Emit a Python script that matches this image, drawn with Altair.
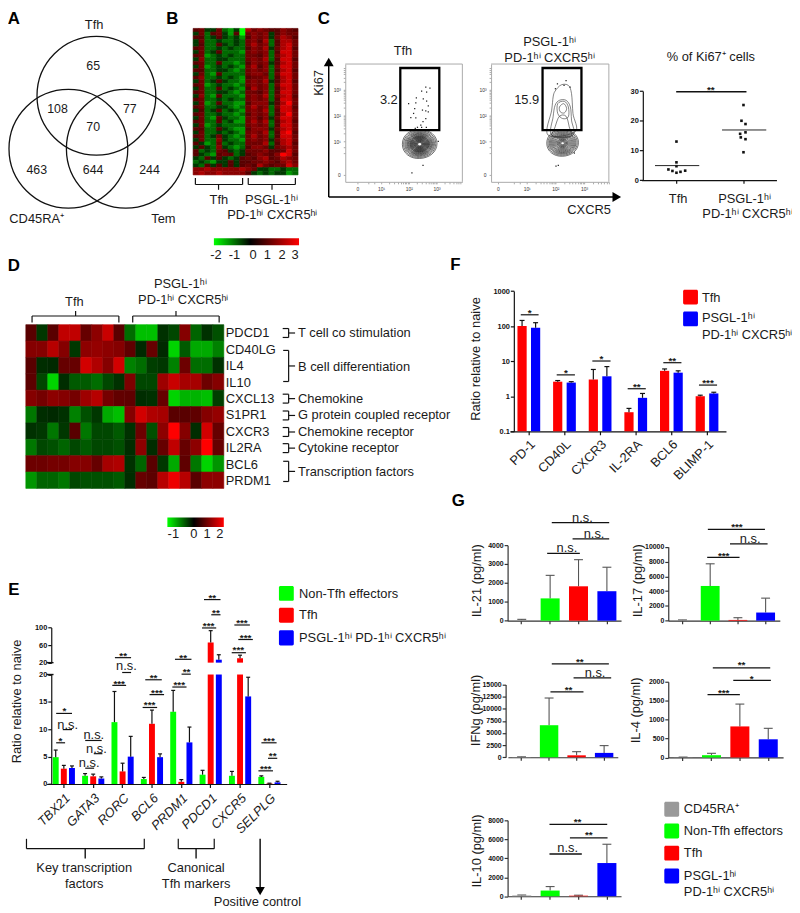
import altair as alt
import pandas as pd

FONT = "Liberation Sans"
W, H = 792, 905
HI = "\u02b0\u2071"
PSGL = "PSGL-1" + HI
PD = "PD-1" + HI + " CXCR5" + HI

# ---------- data ----------
venn_counts = ["65", "108", "77", "70", "463", "644", "244"]

B_rows = """EFDDFCBDA|HFGFEEGFE
DFCEFDBEA|FGFGDEGFF
EECDEDCDB|EGFGDFHGE
DFCCDCCDC|FGEHCEHHF
DECCEDCDC|FHFGCEHIF
EFCCDCDCC|EGFHDFHIE
DFCDECCCB|FGFGCEIIF
EFBCDCDCC|FFEGCFHIF
DGCCDDCCC|FGFHCEIIE
EFCCECCBC|EGFGDEHIF
DFBCDCDCB|FHEGCFIIF
EECCDDCBC|FGFGCEHIE
DFCBECCCC|FGGFCFIIF
EGCCDCDCB|EFFGCEHIF
DFCDEDCCB|FGFHDEHIE
EFBCDCCBC|FGFGCFIIF
DFCCECDCB|EHFGCEHIF
EFCCDDCBC|FFEGCEIIF
DGCBECCCB|FGFHCFHIE
EFCCDCDCC|FGFGCEIIF
DFBCECCBB|EGGGDEHJF
EFCCDDCBC|FHFGCFIIE
DECDECDCB|FGFHCEIIF
EFCCDCCBC|EGFGCEHJF
DFCBEDCCB|FGEGDFIIF
EFCCECDBB|FHFHCEHIE
DFBCDCCCC|FGFGCEIIF
EECCEDCBB|EGGGDFHIF
DFCCDCDCB|FGFHCEIJE
EFCDFDCBC|FHFGCEIIF
DFCCGDCCB|FGFGDFHIF
EDBCFCDCC|FFFHCEHIE
DEDCGDCBC|EGGFDFGHF
ECDCFEDCD|FFFGEEFIF
EDCBEFECD|EFGFEGJIE
DCEDEDCDE|FEGHEFHGF
CDCBDDEDE|EFFGFEGHF
DCEDEDEDE|FEHFEFFIG
GGHGGGGGH|GFDDCCDCC
GHGGHGGGG|EDCDCDDBC""".split("\n")
B_code = dict(A=-2, B=-1.2, C=-.8, D=-.35, E=0, F=.5, G=1.0, H=1.6, I=2.2, J=3)

D_genes = ["PDCD1", "CD40LG", "IL4", "IL10", "CXCL13", "S1PR1", "CXCR3", "IL2RA", "BCL6", "PRDM1"]
D_vals = [
    [0, -.2, 0, 1.3, 1.3, .2, .7, 1.4, 0, -.5, -.9, -.9, -.15, -.3, .6, -.45, -.15, -.35],
    [.6, .6, 1.2, .6, -.2, .7, .8, .7, .6, .1, -.05, .2, -.05, -1.0, -.4, -.8, -.8, -.6],
    [0, -.1, -.05, .2, .2, 1.5, 1.1, .6, 1.5, -.6, -.5, -.25, -.2, -.6, .3, -.5, -.5, -.15],
    [.05, -.3, -1.0, -.1, -.4, -.4, -.5, -.3, -.15, .5, -.3, -.3, .9, 1.4, 1.0, 1.0, .3, .6],
    [.6, .4, .7, .6, .4, .9, 1.2, .4, .15, .1, -.1, -.15, .2, -1.0, -.85, -.85, -.9, -.25],
    [-.55, -.1, -.05, -.15, -.6, -.35, -.2, -.8, -.9, .6, 1.5, 1.1, 1.0, 0, 0, .1, .6, .8],
    [-.15, -.2, -.55, -.2, 0, -.55, -.3, -.3, -.4, -.15, .3, -.35, .7, 2, .6, -.1, 1.5, .2],
    [-.55, -.3, -.35, -.45, -.3, -.4, -.3, -.3, -.35, -.1, .7, -.1, .2, 1.3, .2, .7, 2, .2],
    [.3, .3, .4, .4, .6, .6, .2, 1.0, 1.1, -.15, -.45, 0, -.2, -.8, .1, -.55, -1.0, -.7],
    [-.7, -.45, -.45, -.55, -.3, -.35, -.35, -.35, -.4, -.1, .2, .05, 1.2, 1.8, 1.2, 0, .7, .7],
]

# flow cytometry (values in decades of the biexponential axes)
flow_left_x = [2.61, 2.76, 2.46, 2.64, 2.27, 2.52, 2.64, 2.25, 1.99, 2.70, 2.21, 2.49, 2.61, 2.70, 2.17, 2.07, 2.25, 2.61, 2.51, 2.43, 2.31, 2.46, 2.63, 2.23, 2.51, 2.11, 3.06]
flow_left_y = [3.10, 3.06, 2.95, 2.91, 2.68, 2.65, 2.56, 2.49, 2.46, 2.37, 2.27, 2.21, 2.18, 2.14, 2.08, 1.92, 1.91, 1.88, 1.76, 1.63, 1.54, 1.54, 1.54, 1.50, 0.06, -0.23, 0.99]
flow_right_x = [2.37, 2.07, 2.30, 2.51, 2.0, 2.02, 2.10, 2.66]
flow_right_y = [3.36, 3.23, 3.17, 3.10, 3.04, 0.03, 0.06, 0.54]
contour_left = [35, 32.5, 30, 28, 26, 24.5, 23, 21.5, 20, 19, 18, 17, 16, 15, 14, 13, 12, 11, 10, 9, 8, 7, 6, 5, 4]
contour_right = [32, 29.5, 27, 25, 23, 21, 19, 17, 15, 13, 11, 9.5, 8, 6.5, 5, 3.5]
tall = {
    "c1": [(1.99, 2.95), (2.20, 3.19), (2.45, 3.17), (2.56, 2.85), (2.61, 2.08), (2.69, 1.37), (1.74, 1.24), (1.87, 2.21), (1.92, 2.72)],
    "c2": [(2.14, 2.59), (2.37, 2.59), (2.52, 2.33), (2.56, 1.82), (2.61, 1.24), (1.87, 1.24), (1.92, 1.95), (1.99, 2.40)],
    "c3": [(2.08, 2.46), (2.31, 2.55), (2.45, 2.33), (2.45, 1.95), (2.25, 1.88), (2.08, 2.08)],
    "c4": [(2.14, 2.33), (2.29, 2.46), (2.39, 2.27), (2.31, 2.10), (2.17, 2.14)],
    "c5": [(1.99, 1.56), (2.14, 1.97), (2.37, 1.97), (2.48, 1.56), (2.54, 1.18), (1.91, 1.18)],
}

ki_x = [1, 1, 1, .88, .94, 1, 1.06, 1.13, 2, 1.97, 2.03, 2.03, 1.95, 1.96, 2.03, 2]
ki_y = [13.0, 6.0, 4.7, 3.6, 3.1, 2.5, 2.8, 3.2, 25.3, 20, 18.9, 16.1, 15.6, 14.4, 13.8, 9.4]
ki_med = [(.68, 1.34, 4.9), (1.68, 2.34, 16.9)]

F_cats = ["PD-1", "CD40L", "CXCR3", "IL-2RA", "BCL6", "BLIMP-1"]
F_tfh = [100, 2.6, 3.0, .35, 5.3, 1.0]
F_tfh_hi = [145, 2.8, 5.8, .45, 6.0, 1.07]
F_psgl = [90, 2.45, 3.7, .9, 4.7, 1.2]
F_psgl_hi = [125, 2.6, 7.0, 1.2, 5.3, 1.3]

E_genes = ["TBX21", "GATA3", "RORC", "BCL6", "PRDM1", "PDCD1", "CXCR5", "SELPLG"]
E_non = [4.9, 1.5, 11.3, .9, 13.2, 1.7, 1.5, 1.3]
E_non_hi = [6.2, 1.9, 16.9, 1.2, 17.1, 2.5, 2.3, 1.5]
E_tfh = [2.8, 1.4, 2.3, 11.0, .4, 66, 30, .1]
E_tfh_hi = [3.4, 1.8, 3.8, 13.5, .8, 93, 37, .15]
E_psg = [2.9, 1.0, 5.0, 4.9, 7.6, 26.7, 16, .3]
E_psg_hi = [3.3, 1.3, 8.7, 5.5, 10.4, 38, 19.5, .5]

G_series = ["CD45RA", "Non-Tfh", "Tfh", "PSGL"]
G_colors = ["#999999", "#00ff00", "#ff0000", "#0000ff"]
G_il21 = [40, 1180, 1820, 1560]
G_il21_hi = [70, 2400, 3230, 2830]
G_il17 = [60, 4700, 100, 1100]
G_il17_hi = [100, 7700, 400, 3050]
G_ifng = [50, 6600, 400, 900]
G_ifng_hi = [90, 12200, 1150, 2400]
G_il4 = [5, 60, 820, 480]
G_il4_hi = [10, 110, 1410, 770]
G_il10 = [70, 600, 60, 3500]
G_il10_hi = [130, 1020, 110, 5480]

# ---------- helpers ----------
px = lambda v: v - 8
layers = []


def T(s, x, y, size=13, align="center", bold=False, angle=None, color="#1a1a1a"):
    kw = dict(text=s, align=align, baseline="middle", font=FONT, fontSize=size, color=color,
              fontWeight="bold" if bold else "normal")
    if angle is not None:
        kw["angle"] = angle
    layers.append(alt.Chart().mark_text(**kw).encode(x=alt.value(px(x)), y=alt.value(px(y))))


def L(x0, y0, x1, y1, w=1.2, c="#111111"):
    layers.append(alt.Chart().mark_rule(strokeWidth=w, color=c).encode(
        x=alt.value(px(x0)), y=alt.value(px(y0)), x2=alt.value(px(x1)), y2=alt.value(px(y1))))


def R(x0, y0, x1, y1, c, radius=1.5):
    layers.append(alt.Chart().mark_rect(color=c, cornerRadius=radius).encode(
        x=alt.value(px(x0)), y=alt.value(px(y0)), x2=alt.value(px(x1)), y2=alt.value(px(y1))))


def GR(x0, y0, x1, y1, stops):
    g = alt.Gradient(gradient="linear", stops=[alt.GradientStop(offset=o, color=c) for o, c in stops],
                     x1=0, x2=1, y1=0, y2=0)
    layers.append(alt.Chart().mark_rect(color=g).encode(
        x=alt.value(px(x0)), y=alt.value(px(y0)), x2=alt.value(px(x1)), y2=alt.value(px(y1))))


def TRI(shape, x, y, size=100):
    layers.append(alt.Chart().mark_point(shape=shape, filled=True, size=size, color="#000", opacity=1).encode(
        x=alt.value(px(x)), y=alt.value(px(y))))


def sig(x0, x1, y, label, tx, ty, w=1.2):
    L(x0, y, x1, y, w)
    if label == "n.s.":
        T(label, tx, ty, 13)
    else:
        T(label, tx, ty + 2, 10, bold=True)


def bracket_up(x0, x1, xs, ytop, ylegs, ystub):
    L(x0, ytop, x1, ytop)
    L(x0, ytop, x0, ylegs)
    L(x1, ytop, x1, ylegs)
    L(xs, ytop, xs, ystub)


def lin(domain, r0, r1):
    return alt.Scale(domain=domain, range=[px(r0), px(r1)], nice=False, zero=False)


def band(domain, a, b, step, p):
    o = ((b - a) / step - len(domain) + p) / 2
    return alt.Scale(domain=domain, range=[px(a), px(b)], paddingInner=p, paddingOuter=o)


def yax(X, values, size=7, fmt="d", **kw):
    d = dict(orient="left", offset=-px(X), values=values, title=None, grid=False, domainColor="#111",
             domainWidth=1.2, tickColor="#111", tickWidth=1.2, tickSize=3.5, labelFont=FONT,
             labelFontWeight="bold", labelFontSize=size, labelColor="#111", labelPadding=1,
             labelOverlap=False, labelBound=False, labelFlush=False)
    if fmt:
        d["format"] = fmt
    d.update(kw)
    return alt.Axis(**d)


def xax(Y, **kw):
    d = dict(orient="bottom", offset=px(Y) - H, title=None, grid=False, domainColor="#111", domainWidth=1.2,
             tickColor="#111", tickWidth=1.2, tickSize=3, labels=False, labelOverlap=False,
             labelBound=False, labelFlush=False)
    d.update(kw)
    return alt.Axis(**d)


# ---------- panel letters ----------
for s, x, y in [("A", 14, 15), ("B", 174, 15), ("C", 327, 15), ("D", 14, 264), ("E", 14, 591), ("F", 460, 263), ("G", 463, 501)]:
    T(s, x, y, 17, bold=True, color="#000")

# ---------- A ----------
for cx, cy in [(97.3, 92), (69, 145.5), (127, 145.5)]:
    layers.append(alt.Chart().mark_point(shape="circle", filled=False, size=14400, stroke="#111", strokeWidth=1.3, opacity=1)
                  .encode(x=alt.value(px(cx)), y=alt.value(px(cy))))
for s, (x, y) in zip(venn_counts, [(94, 62), (58, 105), (131, 105), (94, 124), (37, 167), (94, 167), (151, 167)]):
    T(s, x, y, 12.5)
T("Tfh", 95, 21)
T("CD45RA\u207a", 37, 217)
T("Tem", 165, 217)

# ---------- B ----------
b_df = pd.DataFrame([dict(r=i, c=j, v=B_code[ch]) for i, row in enumerate(B_rows)
                     for j, ch in enumerate(row.replace("|", ""))])
b_col = alt.Scale(domain=[-2, 0, 3], range=["#00ff00", "#000000", "#ff0000"])
layers.append(alt.Chart(b_df).mark_rect(strokeWidth=.6).encode(
    x=alt.X("c:O", scale=alt.Scale(domain=list(range(18)), range=[px(195), px(301)], paddingInner=0, paddingOuter=0), axis=None),
    y=alt.Y("r:O", scale=alt.Scale(domain=list(range(40)), range=[px(24), px(172)], paddingInner=0, paddingOuter=0), axis=None),
    color=alt.Color("v:Q", scale=b_col, legend=None),
    stroke=alt.Stroke("v:Q", scale=b_col, legend=None),
))
for a, b, s in [(197.3, 245, 220.7), (250.7, 298.3, 274.7)]:
    bracket_up(a, b, s, 181.7, 175, 187)
T("Tfh", 221, 197)
T(PSGL, 274, 197)
T(PD, 275, 213)
GR(216, 236, 302, 243, [(0, "#00ff00"), (.43, "#000000"), (1, "#ff0000")])
for s, x in zip(["-2", "-1", "0", "1", "2", "3"], [218, 236.7, 255.7, 270, 285, 298]):
    T(s, x, 253)

# ---------- C flow ----------
minor = [1.3, 1.48, 1.6, 1.7, 1.78, 1.85, 1.9, 1.95, 2.3, 2.48, 2.6, 2.7, 2.78, 2.85, 2.9, 2.95, 3.3, 3.48, 3.6, 3.7, 3.78, 3.85, .55, .75]
LEXPR = "datum.value==1?'10\u00b9':datum.value==2?'10\u00b2':datum.value==3?'10\u00b3':datum.value==%s?'0':''"


def flow(x_left, x_right, xdom, x0tick, outline, cx, cy, dots_x, dots_y, tall_lines, box):
    xs = lin(xdom, x_left, x_right)
    ys = lin([-0.58, 4.0], 179, 60)
    xa = xax(179, values=[x0tick, 1, 2, 3] + minor, labels=True, labelExpr=LEXPR % x0tick, labelFontSize=5,
             labelColor="#333", labelFont=FONT, tickColor="#888", tickWidth=.7, tickSize=2, domainColor="#aaa",
             domainWidth=1, labelPadding=3)
    ya = yax(x_left, [-0.31, 1, 2, 3] + minor, size=5, fmt=None, labelExpr=LEXPR % -0.31, labelColor="#333", labelFontWeight="normal",
             tickColor="#888", tickWidth=.7, tickSize=2, domainColor="#aaa", domainWidth=1, labelPadding=3)
    L(x_left, 60, x_right, 60, 1, "#aaa")
    L(x_right, 60, x_right, 179, 1, "#aaa")
    layers.append(alt.Chart(pd.DataFrame({"x": dots_x, "y": dots_y})).mark_point(
        shape="square", filled=True, size=1.6, color="#222", opacity=1).encode(
        x=alt.X("x:Q", scale=xs, axis=xa), y=alt.Y("y:Q", scale=ys, axis=ya)))
    blob = "M-1,0 C-1,-.55 -.55,-.85 0,-.85 C.6,-.85 1,-.5 1,-.05 C1,.45 .55,.8 0,.82 C-.55,.85 -1,.5 -1,0 Z"
    cdf = pd.DataFrame({"x": [cx] * len(outline), "y": [cy] * len(outline), "s": [d * d for d in outline]})
    layers.append(alt.Chart(cdf).mark_point(shape=blob, filled=False, stroke="#222", strokeWidth=.65, opacity=1).encode(
        x=alt.X("x:Q", scale=xs, axis=None), y=alt.Y("y:Q", scale=ys, axis=None), size=alt.Size("s:Q", scale=None, legend=None)))
    if tall_lines:
        rows = [dict(k=k, o=i, x=a, y=b) for k, pts in tall_lines.items() for i, (a, b) in enumerate(pts)]
        layers.append(alt.Chart(pd.DataFrame(rows)).mark_line(interpolate="cardinal-closed", color="#333", strokeWidth=.6).encode(
            x=alt.X("x:Q", scale=xs, axis=None), y=alt.Y("y:Q", scale=ys, axis=None),
            detail="k:N", order="o:Q"))
    layers.append(alt.Chart().mark_rect(fill="white", fillOpacity=0, stroke="#000", strokeWidth=2.3).encode(
        x=alt.value(px(box[0])), x2=alt.value(px(box[1])), y=alt.value(px(64)), y2=alt.value(px(126.7))))


flow(348.7, 467, [-0.296, 3.93], 0.14, contour_left, 2.39, 0.88, flow_left_x, flow_left_y, None, (404.3, 443.7))
flow(496, 615, [-0.24, 3.86], 0.0, contour_right, 2.25, 0.92, flow_right_x, flow_right_y, tall, (548, 587.3))
T("Tfh", 407, 47)
T(PSGL, 555, 38)
T(PD, 555, 54)
T("3.2", 392.7, 96)
T("15.9", 532, 96)
T("Ki67", 322, 79, angle=270)
T("CXCR5", 595, 207)
L(332, 194.3, 332, 60, 1.5, "#000")
L(332, 194.3, 622, 194.3, 1.5, "#000")
TRI("triangle-up", 332, 58)
TRI("triangle-right", 623, 194.3)

# ---------- C scatter ----------
k_xs = lin([0.479, 2.492], 648, 784.3)
k_ys = lin([0, 30], 177.3, 87.3)
layers.append(alt.Chart(pd.DataFrame({"x": ki_x, "y": ki_y})).mark_point(
    shape="square", filled=True, size=7, color="#111", opacity=1).encode(
    x=alt.X("x:Q", scale=k_xs, axis=xax(177.3, values=[1, 2])),
    y=alt.Y("y:Q", scale=k_ys, axis=yax(649.3, [0, 10, 20, 30], 7.5))))
layers.append(alt.Chart(pd.DataFrame(ki_med, columns=["a", "b", "y"])).mark_rule(color="#222", strokeWidth=1).encode(
    x=alt.X("a:Q", scale=k_xs, axis=None), x2="b:Q", y=alt.Y("y:Q", scale=k_ys, axis=None)))
sig(683, 754, 88, "**", 718, 84, 1.5)
T("% of Ki67\u207a cells", 718, 53)
T("Tfh", 685, 196)
T(PSGL, 752, 196)
T(PD, 755, 212)

# ---------- D ----------
d_df = pd.DataFrame([dict(g=g, c=j, v=v) for g, row in zip(D_genes, D_vals) for j, v in enumerate(row)])
d_col = alt.Scale(domain=[-1.2, 0, 2], range=["#00ff00", "#000000", "#ff0000"])
layers.append(alt.Chart(d_df).mark_rect(strokeWidth=.6).encode(
    x=alt.X("c:O", scale=alt.Scale(domain=list(range(18)), range=[px(26), px(226)], paddingInner=0, paddingOuter=0), axis=None),
    y=alt.Y("g:O", scale=alt.Scale(domain=D_genes, range=[px(323.3), px(488.7)], paddingInner=0, paddingOuter=0), axis=None),
    color=alt.Color("v:Q", scale=d_col, legend=None),
    stroke=alt.Stroke("v:Q", scale=d_col, legend=None),
))
gene_y = [331.7, 349, 365, 382.7, 398, 415, 431.7, 448, 465, 481.7]
for g, y in zip(D_genes, gene_y):
    T(g, 228, y, 13, align="left")
for s, y in [("T cell co stimulation", 331.7), ("B cell differentiation", 366), ("Chemokine", 398),
             ("G protein coupled receptor", 415), ("Chemokine receptor", 431.7), ("Cytokine receptor", 448),
             ("Transcription factors", 472)]:
    T(s, 301, y, 13, align="left")
for y in [331.7, 398, 415, 431.7, 448]:
    L(285.5, y - 4.5, 291.5, y - 4.5)
    L(285.5, y + 4.5, 291.5, y + 4.5)
    L(291.5, y - 4.5, 291.5, y + 4.5)
    L(291.5, y, 298, y)
for y0, y1 in [(349.3, 380.7), (461.3, 481.7)]:
    L(286, y0, 291.5, y0)
    L(286, y1, 291.5, y1)
    L(291.5, y0, 291.5, y1)
    L(291.5, (y0 + y1) / 2, 298, (y0 + y1) / 2)
for a, b, s in [(32.3, 120, 76.3), (134, 221.3, 177.7)]:
    L(a, 314.5, b, 314.5)
    L(a, 314.5, a, 321)
    L(b, 314.5, b, 321)
    L(s, 314.5, s, 309.5)
T("Tfh", 75, 300)
T(PSGL, 182, 282)
T(PD, 185, 298)
GR(169, 518, 226, 527.7, [(0, "#00ff00"), (.47, "#000000"), (1, "#ff0000")])
for s, x in zip(["-1", "0", "1", "2"], [175, 195.7, 209, 222]):
    T(s, x, 535)

# ---------- F ----------
F_series = ["Tfh", "PSGL"]
f_df = pd.DataFrame({
    "cat": F_cats * 2, "series": ["Tfh"] * 6 + ["PSGL"] * 6,
    "v": F_tfh + F_psgl, "hi": F_tfh_hi + F_psgl_hi, "base": [.1] * 12})
f_x = band(F_cats, 515, 733.3, 36, .24)
f_y = alt.Scale(type="log", domain=[.1, 1000], range=[px(431), px(289.3)], nice=False)
f_off = alt.XOffset("series:N", scale=alt.Scale(domain=F_series, paddingInner=.32, paddingOuter=.16))
f_ax = xax(431, labels=True, labelAngle=315, labelAlign="right", labelBaseline="top", labelFont=FONT,
           labelFontSize=13, labelColor="#1a1a1a", labelPadding=3, tickSize=3.5)
layers.append(alt.Chart(f_df).mark_bar().encode(
    x=alt.X("cat:N", scale=f_x, axis=f_ax), xOffset=f_off,
    y=alt.Y("v:Q", scale=f_y, axis=yax(519, [.1, 1, 10, 100, 1000], 7.5, "~g")), y2="base:Q",
    color=alt.Color("series:N", scale=alt.Scale(domain=F_series, range=["#ff0000", "#0000ff"]), legend=None)))
layers.append(alt.Chart(f_df).mark_rule(color="#111", strokeWidth=1.2).encode(
    x=alt.X("cat:N", scale=f_x, axis=None), xOffset=f_off, y=alt.Y("v:Q", scale=f_y, axis=None), y2="hi:Q"))
layers.append(alt.Chart(f_df).mark_tick(color="#111", thickness=1.2, size=5, opacity=1).encode(
    x=alt.X("cat:N", scale=f_x, axis=None), xOffset=f_off, y=alt.Y("hi:Q", scale=f_y, axis=None)))
for a, b, y, s in [(526, 544, 313.3, "*"), (562.3, 580.7, 374, "*"), (598.3, 616.7, 360, "*"),
                   (634, 652.3, 388, "**"), (670, 688.3, 361.7, "**"), (706, 724.3, 384.3, "***")]:
    sig(a, b, y, s, (a + b) / 2, y - 4)
T("Ratio relative to naive", 481, 358, 13, angle=270)
R(690, 288, 705, 303, "#ff0000")
R(690, 310, 705, 325, "#0000ff")
T("Tfh", 709, 296, 13, align="left")
T(PSGL, 709, 317, 13, align="left")
T(PD, 709, 334, 13, align="left")

# ---------- E ----------
E_series = ["Non", "Tfh", "PSGL"]
e_df = pd.DataFrame({
    "gene": E_genes * 3, "series": ["Non"] * 8 + ["Tfh"] * 8 + ["PSGL"] * 8,
    "v": E_non + E_tfh + E_psg, "hi": E_non_hi + E_tfh_hi + E_psg_hi})
e_df["low"] = e_df["v"].clip(upper=20)
e_df["zero"] = 0
e_df["twenty"] = 20
lo_err = e_df[e_df["hi"] <= 20]
up = e_df[e_df["v"] > 20]
e_x = band(E_genes, 47, 289.5, 29.67, .17)
e_off = alt.XOffset("series:N", scale=alt.Scale(domain=E_series, paddingInner=.27, paddingOuter=.135))
e_col = alt.Color("series:N", scale=alt.Scale(domain=E_series, range=["#00ff00", "#ff0000", "#0000ff"]), legend=None)
e_lo = lin([0, 20], 787.3, 676.7)
e_up = lin([20, 100], 664.7, 629.3)
e_ax = xax(787.3, labels=True, labelAngle=315, labelAlign="right", labelBaseline="top", labelFont=FONT,
           labelFontSize=13, labelFontStyle="italic", labelColor="#1a1a1a", labelPadding=4, tickSize=3.5)
layers.append(alt.Chart(e_df).mark_bar().encode(
    x=alt.X("gene:N", scale=e_x, axis=e_ax), xOffset=e_off,
    y=alt.Y("low:Q", scale=e_lo, axis=yax(51.7, [0, 5, 10, 15, 20], 7.5)), y2="zero:Q", color=e_col))
layers.append(alt.Chart(up).mark_bar().encode(
    x=alt.X("gene:N", scale=e_x, axis=None), xOffset=e_off,
    y=alt.Y("v:Q", scale=e_up, axis=yax(51.7, [20, 60, 100], 7.5)), y2="twenty:Q", color=e_col))
for dfx, sc in [(lo_err, e_lo), (up, e_up)]:
    layers.append(alt.Chart(dfx).mark_rule(color="#111", strokeWidth=1.2).encode(
        x=alt.X("gene:N", scale=e_x, axis=None), xOffset=e_off, y=alt.Y("v:Q", scale=sc, axis=None), y2="hi:Q"))
    layers.append(alt.Chart(dfx).mark_tick(color="#111", thickness=1.2, size=4, opacity=1).encode(
        x=alt.X("gene:N", scale=e_x, axis=None), xOffset=e_off, y=alt.Y("hi:Q", scale=sc, axis=None)))
L(47, 664.7, 54, 664.7, 1.4)
L(47, 676.7, 54, 676.7, 1.4)
T("Ratio relative to naive", 17, 704, 13, angle=270)
E_sig = [(170, 218, 438, "*", 195, 425), (190, 218, 487, "n.s.", 205, 472), (170, 197, 527, "*", 183, 517),
         (258, 308, 520, "n.s.", 284, 505), (284, 310, 560, "n.s.", 292, 545), (258, 285, 604, "n.s.", 270, 588),
         (348, 397, 269, "**", 373, 258), (370, 397, 314, "n.s.", 383, 295), (340, 382, 353, "***", 361, 342),
         (440, 490, 336, "**", 465, 325), (453, 497, 381, "***", 475, 370), (432, 476, 420, "***", 453, 408),
         (530, 580, 274, "**", 555, 263), (550, 578, 319, "**", 565, 307), (522, 565, 358, "***", 543, 347),
         (618, 668, 93, "**", 643, 82), (640, 668, 139, "**", 654, 127), (612, 655, 179, "***", 632, 166),
         (710, 757, 170, "***", 733, 158), (722, 766, 214, "***", 744, 203), (702, 745, 254, "***", 722, 241),
         (792, 838, 527, "***", 815, 515), (812, 840, 574, "**", 826, 560), (783, 827, 612, "***", 805, 600)]
for a, b, y, s, tx, ty in E_sig:
    sig(a / 3, b / 3, 570 + y / 3, s, tx / 3, 570 + ty / 3)
# lower brackets
for a, b, s in [(80, 437, 258), (540, 649, 594)]:
    L(a / 3, 570 + 848 / 3, b / 3, 570 + 848 / 3)
    L(a / 3, 570 + 848 / 3, a / 3, 570 + 818 / 3)
    L(b / 3, 570 + 848 / 3, b / 3, 570 + 818 / 3)
    L(s / 3, 570 + 848 / 3, s / 3, 570 + 878 / 3, 1.4)
T("Key transcription", 85, 872.5)
T("factors", 85, 888)
T("Canonical", 198, 872.5)
T("Tfh markers", 198, 888)
L(262.7, 842.5, 262.7, 892, 1.4, "#000")
TRI("triangle-down", 262.7, 895.5, 90)
T("Positive control", 260, 907)
R(281.7, 587.3, 296.7, 602.3, "#00ff00")
R(281.7, 609.3, 296.7, 624.3, "#ff0000")
R(281.7, 632, 296.7, 647.3, "#0000ff")
T("Non-Tfh effectors", 302, 595, 13, align="left")
T("Tfh", 302, 616.7, 13, align="left")
T("PSGL-1" + HI + " PD-1" + HI + " CXCR5" + HI, 302, 639.5, 13, align="left")


# ---------- G ----------
def gpanel(vals, his, xa, xb, step, barw_p, ax_x, y0, dom_max, r_top, ticks, tick_size=7):
    df = pd.DataFrame({"s": G_series, "v": vals, "hi": his, "zero": [0] * 4})
    xs = band(G_series, xa, xb, step, barw_p)
    ys = lin([0, dom_max], y0, r_top)
    layers.append(alt.Chart(df).mark_rule(color="#555", strokeWidth=1.1).encode(
        x=alt.X("s:N", scale=xs, axis=None), y=alt.Y("v:Q", scale=ys, axis=None), y2="hi:Q"))
    layers.append(alt.Chart(df).mark_tick(color="#555", thickness=1.1, size=9, opacity=1).encode(
        x=alt.X("s:N", scale=xs, axis=None), y=alt.Y("hi:Q", scale=ys, axis=None)))
    layers.append(alt.Chart(df).mark_bar().encode(
        x=alt.X("s:N", scale=xs, axis=xax(y0, domainColor="#333", tickColor="#333")),
        y=alt.Y("v:Q", scale=ys, axis=yax(ax_x, ticks, tick_size, domainColor="#333", tickColor="#333")), y2="zero:Q",
        color=alt.Color("s:N", scale=alt.Scale(domain=G_series, range=G_colors), legend=None)))


gpanel(G_il21, G_il21_hi, 512.7, 627.3, 28.67, .33, 512.7, 622.3, 4000, 546, [0, 1000, 2000, 3000, 4000])
gpanel(G_il17, G_il17_hi, 675, 787.7, 28, .32, 675, 622.3, 10000, 547.7, [0, 2000, 4000, 6000, 8000, 10000])
gpanel(G_ifng, G_ifng_hi, 513, 624, 27.8, .33, 510.7, 760.3, 15000, 686.7, [0, 2500, 5000, 7500, 10000, 12500, 15000])
gpanel(G_il4, G_il4_hi, 675, 791, 28.67, .33, 675, 760.5, 2000, 684, [0, 500, 1000, 1500, 2000])
gpanel(G_il10, G_il10_hi, 512.7, 627.3, 28.67, .33, 512.7, 900.7, 8000, 824, [0, 2000, 4000, 6000, 8000])
T("IL-21 (pg/ml)", 481.7, 582, 13, angle=270)
T("IL-17 (pg/ml)", 644, 582, 13, angle=270)
T("IFNg (pg/ml)", 480.7, 713, 13, angle=270)
T("IL-4 (pg/ml)", 642.7, 713, 13, angle=270)
T("IL-10 (pg/ml)", 481.7, 855, 13, angle=270)
G_sig = [(412, 586, 100, "n.s.", 505, 85), (475, 586, 149, "n.s.", 540, 133), (398, 497, 193, "n.s.", 458, 178),
         (885, 1058, 120, "***", 973, 108), (952, 1066, 164, "n.s.", 1013, 150), (883, 981, 205, "***", 933, 195),
         (412, 585, 528, "**", 497, 517), (478, 592, 570, "n.s.", 543, 555), (408, 508, 613, "**", 463, 602),
         (900, 1074, 540, "**", 987, 525), (962, 1076, 578, "*", 1018, 568), (884, 982, 621, "***", 933, 610)]
for a, b, y, s, tx, ty in G_sig:
    sig(420 + a / 3, 420 + b / 3, 490 + y / 3, s, 420 + tx / 3, 490 + ty / 3, 1.3)
for a, b, y, s, tx, ty in [(405, 580, 414, "**", 490, 402), (467, 581, 455, "**", 524, 441), (405, 503, 504, "n.s.", 460, 486)]:
    sig(420 + a / 3, 420 + b / 3, 690 + y / 3, s, 420 + tx / 3, 690 + ty / 3, 1.3)
for c, y0, y1 in zip(G_colors, [805.3, 827.3, 849.7, 872.7], [820.3, 842.3, 864.7, 887.7]):
    R(671, y0, 686, y1, c)
T("CD45RA\u207a", 690.7, 813, 13, align="left")
T("Non-Tfh effectors", 690.7, 835, 13, align="left")
T("Tfh", 690.7, 857.3, 13, align="left")
T(PSGL, 690.7, 880.7, 13, align="left")
T(PD, 690.7, 896.7, 13, align="left")

chart = alt.layer(*layers).resolve_scale(
    x="independent", y="independent", color="independent", stroke="independent", xOffset="independent"
).resolve_axis(x="independent", y="independent").properties(
    width=W, height=H, padding=0, autosize=alt.AutoSizeParams(type="none"), background="white"
).configure_view(stroke=None)

chart.save("out.html", embed_options={"renderer": "svg", "actions": False})
